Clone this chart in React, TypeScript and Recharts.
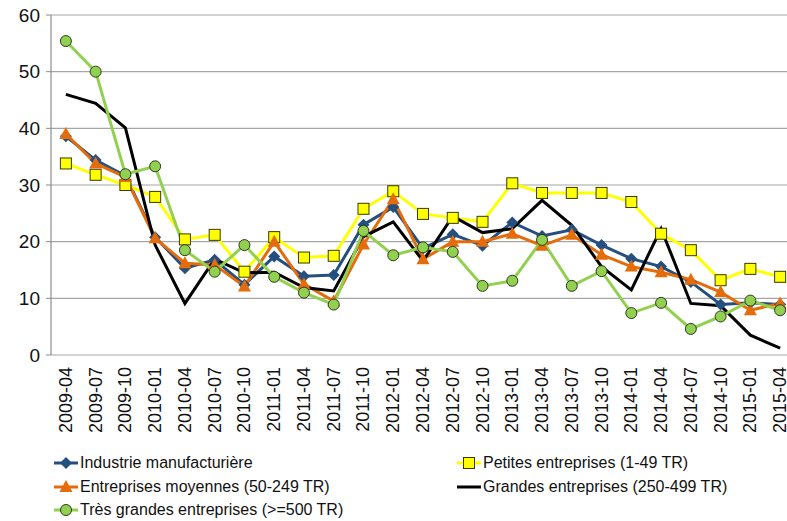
import { LineChart, Line, XAxis, YAxis, CartesianGrid } from 'recharts';

const dates = [
  '2009-04', '2009-07', '2009-10', '2010-01', '2010-04', '2010-07', '2010-10',
  '2011-01', '2011-04', '2011-07', '2011-10', '2012-01', '2012-04', '2012-07',
  '2012-10', '2013-01', '2013-04', '2013-07', '2013-10', '2014-01', '2014-04',
  '2014-07', '2014-10', '2015-01', '2015-04',
];

const industrie = [38.6, 34.4, 31.6, 20.8, 15.3, 16.8, 12.4, 17.4, 13.9, 14.1, 23.0, 26.1, 18.8, 21.3, 19.3, 23.4, 21.0, 22.1, 19.4, 17.0, 15.6, 12.9, 8.9, 9.2, 8.9];
const petites = [33.8, 31.8, 30.0, 27.9, 20.4, 21.2, 14.7, 20.8, 17.2, 17.5, 25.8, 28.9, 24.9, 24.2, 23.5, 30.3, 28.6, 28.6, 28.6, 27.0, 21.4, 18.5, 13.2, 15.2, 13.8];
const moyennes = [39.0, 33.8, 31.4, 20.6, 16.2, 15.9, 12.1, 20.0, 12.5, 9.5, 19.5, 27.5, 16.9, 20.0, 20.0, 21.4, 19.3, 21.2, 17.7, 15.6, 14.6, 13.3, 11.1, 7.9, 9.1];
const grandes = [46.0, 44.4, 40.1, 19.4, 9.1, 16.9, 14.5, 14.6, 11.9, 11.3, 20.9, 23.5, 16.6, 24.5, 21.6, 22.3, 27.3, 22.9, 15.6, 11.5, 22.3, 9.1, 8.7, 3.5, 1.2];
const tresGrandes = [55.4, 50.0, 31.9, 33.3, 18.5, 14.7, 19.4, 13.8, 11.0, 8.9, 21.9, 17.6, 19.0, 18.2, 12.2, 13.1, 20.3, 12.2, 14.8, 7.4, 9.2, 4.6, 6.8, 9.6, 7.9];

const yTicks = [0, 10, 20, 30, 40, 50, 60];

const data = dates.map((d, i) => ({
  date: d,
  industrie: industrie[i],
  petites: petites[i],
  moyennes: moyennes[i],
  grandes: grandes[i],
  tresGrandes: tresGrandes[i],
}));

const boundaries = dates.map((_, i) => i).concat([dates.length]);

const BLUE = '#254F7E';
const ORANGE = '#E46C0A';
const YELLOW = '#FFFF00';
const GREEN = '#92D050';
const FONT = "'Liberation Sans Narrow', 'Arial Narrow', 'Liberation Sans', sans-serif";

function marker(kind: string, cx: number, cy: number, key?: any) {
  if (kind === 'diamond') {
    return <polygon key={key} points={`${cx},${cy - 6} ${cx + 6},${cy} ${cx},${cy + 6} ${cx - 6},${cy}`} fill={BLUE} />;
  }
  if (kind === 'triangle') {
    return <polygon key={key} points={`${cx},${cy - 7} ${cx + 6.5},${cy + 5} ${cx - 6.5},${cy + 5}`} fill={ORANGE} />;
  }
  if (kind === 'square') {
    return <rect key={key} x={cx - 5.5} y={cy - 5.5} width={11} height={11} fill={YELLOW} stroke="#3a3a00" strokeWidth={1} />;
  }
  if (kind === 'circle') {
    return <circle key={key} cx={cx} cy={cy} r={5.5} fill={GREEN} stroke="#2e3a22" strokeWidth={1} />;
  }
  return <g key={key} />;
}

const dot = (kind: string) => (props: any) => marker(kind, props.cx, props.cy, props.key ?? `${kind}-${props.index}`);

const legendItems = [
  { label: 'Industrie manufacturière', color: BLUE, kind: 'diamond', left: 53, top: 453 },
  { label: 'Petites entreprises (1-49 TR)', color: YELLOW, kind: 'square', left: 456, top: 453 },
  { label: 'Entreprises moyennes (50-249 TR)', color: ORANGE, kind: 'triangle', left: 53, top: 477 },
  { label: 'Grandes entreprises (250-499 TR)', color: '#000', kind: 'none', left: 456, top: 477 },
  { label: 'Très grandes entreprises (>=500 TR)', color: GREEN, kind: 'circle', left: 53, top: 500 },
];

function LegendBox() {
  return (
    <>
      {legendItems.map((it) => (
        <div
          key={it.label}
          style={{ position: 'absolute', left: it.left, top: it.top, display: 'flex', alignItems: 'center', fontFamily: FONT, fontSize: 16, color: '#111', whiteSpace: 'nowrap' }}
        >
          <svg width={26} height={20} style={{ marginRight: 1 }}>
            <line x1={1} y1={10} x2={25} y2={10} stroke={it.color} strokeWidth={3} />
            {marker(it.kind, 13, 10)}
          </svg>
          <span>{it.label}</span>
        </div>
      ))}
    </>
  );
}

export default function App() {
  return (
    <div style={{ position: 'fixed', left: 0, top: 0, width: 787, height: 521, overflow: 'hidden', background: '#fff' }}>
      <LineChart width={800} height={435} data={data} margin={{ top: 15, right: 5, bottom: 0, left: 0 }}>
        <CartesianGrid vertical={false} stroke="#A6A6A6" strokeWidth={1.2} />
        <XAxis
          xAxisId="frame"
          type="number"
          domain={[0, dates.length]}
          ticks={boundaries}
          interval={0}
          tickFormatter={() => ''}
          height={0}
          tickSize={5}
          stroke="#8C8C8C"
          axisLine={{ stroke: '#8C8C8C', strokeWidth: 1.2 }}
        />
        <XAxis
          xAxisId="main"
          dataKey="date"
          scale="band"
          interval={0}
          axisLine={false}
          tickLine={false}
          height={80}
          tick={(props: any) => (
            <text
              x={props.x}
              y={props.y}
              transform={`rotate(-90, ${props.x}, ${props.y})`}
              textAnchor="end"
              dy={6}
              dx={-4}
              fontFamily={FONT}
              fontSize={18}
              fill="#111"
            >
              {props.payload.value}
            </text>
          )}
        />
        <YAxis
          domain={[0, 60]}
          ticks={yTicks}
          interval={0}
          width={51}
          tickSize={5}
          tickMargin={6}
          stroke="#8C8C8C"
          axisLine={{ stroke: '#8C8C8C', strokeWidth: 1.2 }}
          tick={{ fill: '#111', fontSize: 19, fontFamily: FONT }}
        />
        <Line xAxisId="main" dataKey="industrie" stroke={BLUE} strokeWidth={3} dot={dot('diamond')} activeDot={false} isAnimationActive={false} />
        <Line xAxisId="main" dataKey="petites" stroke={YELLOW} strokeWidth={3} dot={dot('square')} activeDot={false} isAnimationActive={false} />
        <Line xAxisId="main" dataKey="moyennes" stroke={ORANGE} strokeWidth={3} dot={dot('triangle')} activeDot={false} isAnimationActive={false} />
        <Line xAxisId="main" dataKey="grandes" stroke="#000" strokeWidth={3} dot={false} activeDot={false} isAnimationActive={false} />
        <Line xAxisId="main" dataKey="tresGrandes" stroke={GREEN} strokeWidth={3} dot={dot('circle')} activeDot={false} isAnimationActive={false} />
      </LineChart>
      <LegendBox />
    </div>
  );
}
